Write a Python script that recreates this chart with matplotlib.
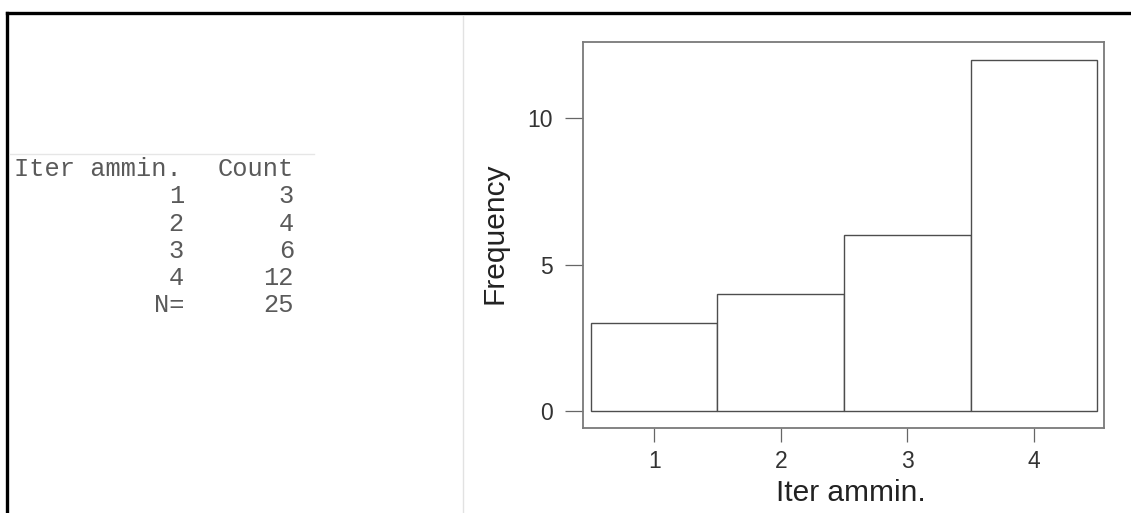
import matplotlib
matplotlib.use("Agg")
import matplotlib.pyplot as plt
from matplotlib.lines import Line2D

# ---- data ----
categories = [1, 2, 3, 4]
counts = [3, 4, 6, 12]
x_label = "Iter ammin."
y_label = "Frequency"
y_ticks = [0, 5, 10]

W, H = 1131, 513
fig = plt.figure(figsize=(W / 100, H / 100), dpi=100)
fig.patch.set_facecolor("white")

def fx(px):
    return px / W

def fy(py):
    return 1 - py / H

# frame lines of the screenshot
fig.add_artist(Line2D([fx(7), 1.0], [fy(13), fy(13)], color="black", lw=2.4,
                      transform=fig.transFigure))
fig.add_artist(Line2D([fx(7), fx(7)], [fy(13), 0.0], color="black", lw=2.4,
                      transform=fig.transFigure))
fig.add_artist(Line2D([fx(463), fx(463)], [fy(16), 0.0], color="#e2e2e2", lw=1.0,
                      transform=fig.transFigure))
fig.add_artist(Line2D([fx(10), fx(314)], [fy(154), fy(154)], color="#e6e6e6", lw=1.0,
                      transform=fig.transFigure))

# ---- frequency table (left panel) ----
mono = ["Liberation Mono", "DejaVu Sans Mono"]
tcol = "#5a5a5a"
tsize = 18.3
row0 = 169
step = 27.3
fig.text(fx(14), fy(row0), x_label, family=mono, size=tsize, color=tcol,
         ha="left", va="center")
fig.text(fx(294), fy(row0), "Count", family=mono, size=tsize, color=tcol,
         ha="right", va="center")
for i, (c, n) in enumerate(zip(categories, counts)):
    y = fy(row0 + step * (i + 1))
    fig.text(fx(184), y, str(c), family=mono, size=tsize, color=tcol,
             ha="right", va="center")
    fig.text(fx(294), y, str(n), family=mono, size=tsize, color=tcol,
             ha="right", va="center")
yN = fy(row0 + step * (len(categories) + 1))
fig.text(fx(184), yN, "N=", family=mono, size=tsize, color=tcol,
         ha="right", va="center")
fig.text(fx(294), yN, str(sum(counts)), family=mono, size=tsize, color=tcol,
         ha="right", va="center")

# ---- histogram (right panel) ----
ax_left, ax_right, ax_top, ax_bottom = 583, 1104, 42, 428
ax = fig.add_axes([fx(ax_left), fy(ax_bottom), fx(ax_right - ax_left),
                   (ax_bottom - ax_top) / H])
ax.bar(categories, counts, width=1.0, color="white", edgecolor="#4d4d4d",
       linewidth=1.0, align="center")
ax.set_xlim(0.437, 4.555)
ax.set_ylim(-0.58, 12.6)
ax.set_xticks(categories)
ax.set_yticks(y_ticks)

for s in ax.spines.values():
    s.set_color("#7a7a7a")
    s.set_linewidth(1.3)

sans = ["Liberation Sans", "DejaVu Sans"]
ax.tick_params(axis="y", direction="out", length=13, width=0.9, color="#666666",
               pad=9, labelsize=16.5, labelcolor="#333333")
ax.tick_params(axis="x", direction="out", length=10, width=0.9, color="#666666",
               pad=6, labelsize=16.5, labelcolor="#333333")
for lab in ax.get_xticklabels() + ax.get_yticklabels():
    lab.set_family(sans)

ax.set_xlabel(x_label, family=sans, size=21.5, color="#222222", va="center")
ax.xaxis.set_label_coords(0.515, -0.168)
ax.set_ylabel(y_label, family=sans, size=21.5, color="#222222", va="center")
ax.yaxis.set_label_coords(-0.169, 0.505)

fig.savefig("out.png", dpi=100, facecolor="white")
